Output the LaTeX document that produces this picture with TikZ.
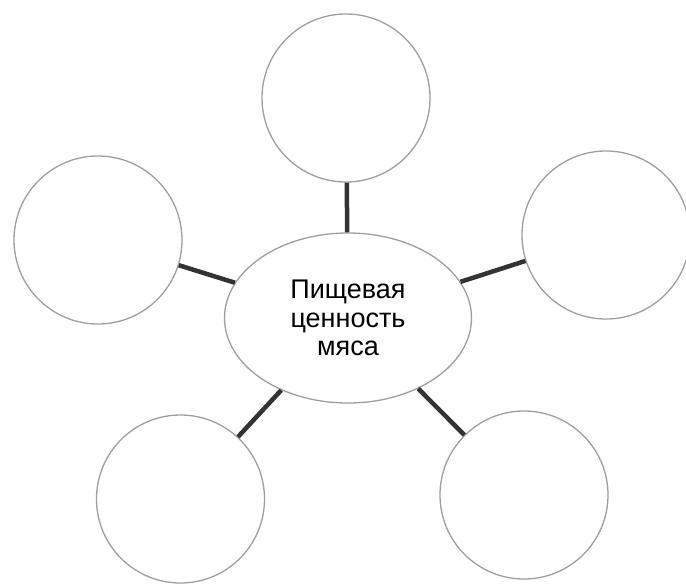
\documentclass[tikz,border=0pt]{standalone}
\usepackage{fontspec}
\setmainfont{Liberation Sans}
\usetikzlibrary{shapes.geometric}
\tikzset{
  leaf/.style={circle, draw=black!38, line width=1.3pt, minimum size=168pt, inner sep=0pt},
  hub/.style={ellipse, draw=black!38, line width=1.3pt, minimum width=247pt, minimum height=170pt, inner sep=0pt, align=center, font=\fontsize{27}{28.4}\selectfont},
  link/.style={draw=black!80, line width=4.5pt}
}
\begin{document}
\begin{tikzpicture}[x=1pt,y=-1pt]
\useasboundingbox (0,0) rectangle (686,584);
\node[hub] (c) at (348,318) {Пищевая\\ценность\\мяса};
\node[leaf] (t) at (346,98) {};
\node[leaf] (l) at (98,240) {};
\node[leaf] (r) at (606,235) {};
\node[leaf] (bl) at (180.5,499) {};
\node[leaf] (br) at (524,495) {};
\foreach \n in {t,l,r,bl,br} \draw[link] (c) -- (\n);
\end{tikzpicture}
\end{document}
